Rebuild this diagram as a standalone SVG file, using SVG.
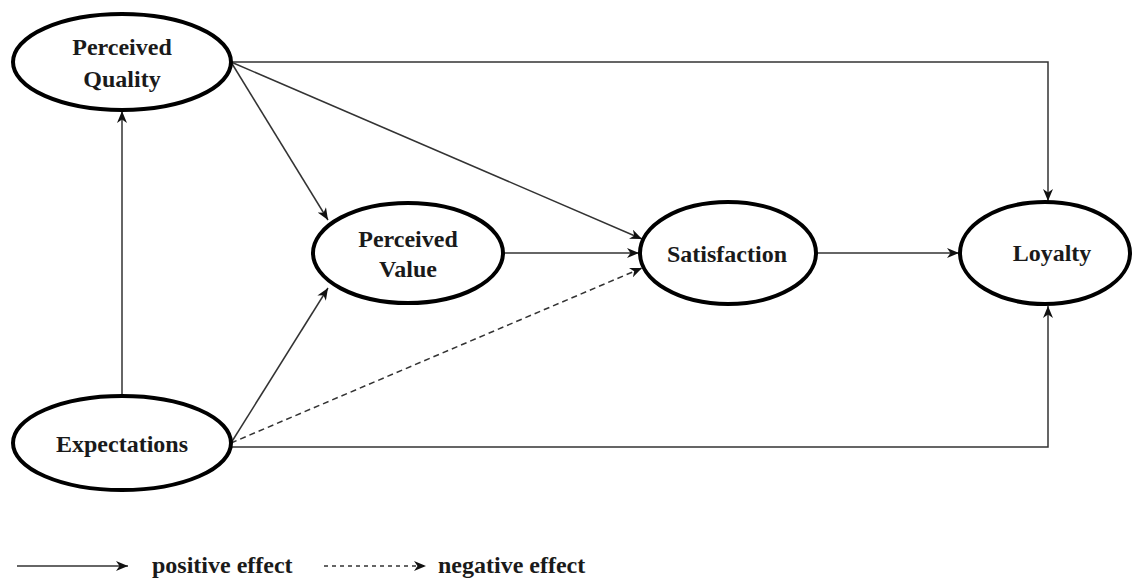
<svg xmlns="http://www.w3.org/2000/svg" width="1132" height="579" viewBox="0 0 1132 579">
<style>
.node{fill:#fff;stroke:#000;stroke-width:4}
.lbl{font-family:"Liberation Serif","Times New Roman",serif;font-weight:bold;font-size:24px;fill:#1a1a1a;text-anchor:middle}
.leg{font-family:"Liberation Serif","Times New Roman",serif;font-weight:bold;font-size:24px;fill:#1a1a1a}
.c{fill:none;stroke:#333;stroke-width:1.5}
.d{stroke-dasharray:6,4}
</style>
<defs>
<marker id="ah" viewBox="0 0 12 10" refX="12" refY="5" markerWidth="12" markerHeight="10" markerUnits="userSpaceOnUse" orient="auto">
<path d="M0,0 L12,5 L0,10 L3.5,5 z" fill="#111"/>
</marker>
</defs>
<g id="connectors">
<path class="c" d="M122,395 L122,111" marker-end="url(#ah)"/>
<path class="c" d="M231,62 L1048,62 L1048,201" marker-end="url(#ah)"/>
<path class="c" d="M231,62 L328,220" marker-end="url(#ah)"/>
<path class="c" d="M231,62 L642,239" marker-end="url(#ah)"/>
<path class="c" d="M503,253 L639,253" marker-end="url(#ah)"/>
<path class="c" d="M231,443 L328,288" marker-end="url(#ah)"/>
<path class="c d" d="M231,443 L642,268" marker-end="url(#ah)"/>
<path class="c" d="M817,253 L959,253" marker-end="url(#ah)"/>
<path class="c" d="M231,447 L1048,447 L1048,306" marker-end="url(#ah)"/>
</g>
<g id="perceived-quality">
<ellipse class="node" cx="122" cy="62" rx="109" ry="48"/>
<text class="lbl" x="122" y="55">Perceived</text>
<text class="lbl" x="122" y="87">Quality</text>
</g>
<g id="perceived-value">
<ellipse class="node" cx="408" cy="253" rx="95" ry="50"/>
<text class="lbl" x="408" y="247">Perceived</text>
<text class="lbl" x="408" y="277">Value</text>
</g>
<g id="satisfaction">
<ellipse class="node" cx="728" cy="253" rx="88" ry="51"/>
<text class="lbl" x="727" y="262">Satisfaction</text>
</g>
<g id="loyalty">
<ellipse class="node" cx="1045" cy="253" rx="85" ry="51"/>
<text class="lbl" x="1052" y="261">Loyalty</text>
</g>
<g id="expectations">
<ellipse class="node" cx="122" cy="443" rx="109" ry="47"/>
<text class="lbl" x="122" y="452">Expectations</text>
</g>
<g id="legend">
<path class="c" d="M17,566 L128,566" marker-end="url(#ah)"/>
<text class="leg" x="152" y="573">positive effect</text>
<path class="c d" d="M324,566 L426,566" marker-end="url(#ah)" style="stroke-dasharray:4,4"/>
<text class="leg" x="438" y="573">negative effect</text>
</g>
</svg>
